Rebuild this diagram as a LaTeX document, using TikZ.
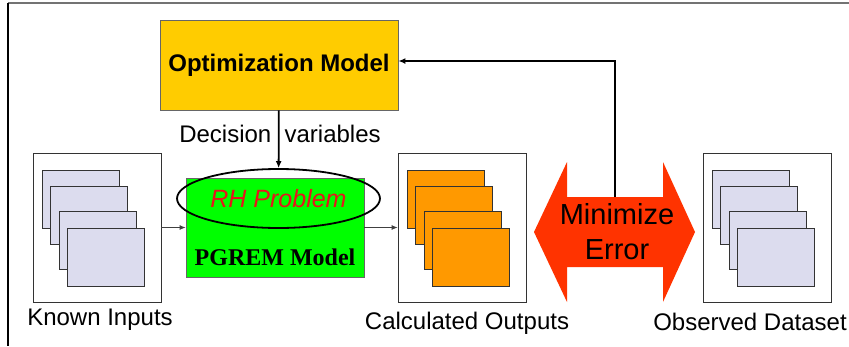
\documentclass[tikz,border=0pt]{standalone}
\usepackage{fontspec}
\setmainfont{Liberation Sans}
\newfontfamily\timesfont{Liberation Serif}
\usepackage{xcolor}
\usepackage{tikz}
\usetikzlibrary{shapes.geometric,arrows.meta,positioning,calc}
\definecolor{optyellow}{HTML}{FFCC00}
\definecolor{modelgreen}{HTML}{00FF00}
\definecolor{sheetblue}{HTML}{DCDCEE}
\definecolor{sheetorange}{HTML}{FF9900}
\definecolor{errred}{HTML}{FF3300}
\definecolor{rhred}{HTML}{E8141C}

% four stacked sheets inside a frame whose top-left corner is (#1,#2)
\newcommand{\sheetstack}[3]{%
  \foreach \dx/\dy in {9/17,17.5/33,26/58,34.5/75}
    \filldraw[fill=#3,draw=black!80,line width=0.8pt]
      (#1+\dx,#2+\dy) rectangle ++(77,58);
}

\tikzset{
  datafr/.style={draw=black!80,line width=0.8pt,minimum width=128pt,
    minimum height=149pt,inner sep=0pt},
  lbl/.style={font=\fontsize{24}{28}\selectfont,inner sep=0pt},
  flow/.style={draw=black!75,line width=0.8pt,-{Latex[length=6pt,width=5pt]}},
  heavy/.style={draw=black,line width=1.8pt,-{Latex[length=7pt,width=6pt]}}
}

\begin{document}
\begin{tikzpicture}[x=1pt,y=-1pt]
  \useasboundingbox (0,0) rectangle (849,346);
  \draw[black!55,line width=1.5pt] (8,3) -- (849,3);
  \draw[black,line width=1.5pt] (8,3) -- (8,346);

  % optimisation block
  \node[fill=optyellow,draw=black!60,line width=0.8pt,minimum width=238pt,
        minimum height=90pt,inner sep=0pt,
        font=\fontsize{24}{28}\selectfont\bfseries] (opt) at (279,65)
    {Optimization Model};
  \node[lbl] (dv) at (280,134) {Decision\ \ variables};

  % PGREM model with the RH problem on top
  \node[fill=modelgreen,draw=black!60,line width=0.8pt,minimum width=178pt,
        minimum height=99pt,inner sep=0pt] (pgrem) at (275,227.5) {};
  \node[font=\fontsize{24}{28}\selectfont\timesfont\bfseries,inner sep=0pt]
    (pgremlbl) at (275,257) {PGREM Model};
  \node[ellipse,draw=black,line width=1.8pt,minimum width=203pt,
        minimum height=59pt,inner sep=0pt,text=rhred,
        font=\fontsize{25}{28}\selectfont\itshape] (rh) at (278.5,198.5)
    {RH Problem};

  % data frames
  \node[datafr] (known) at (97,227.5) {};
  \sheetstack{33}{153}{sheetblue}
  \node[lbl] (knownlbl) at (100,320) {Known Inputs};

  \node[datafr] (calc) at (462,227.5) {};
  \sheetstack{398}{153}{sheetorange}
  \node[lbl] (calclbl) at (467,323) {Calculated Outputs};

  \node[datafr] (obs) at (767,227.5) {};
  \sheetstack{703}{153}{sheetblue}
  \node[lbl] (obslbl) at (750,322) {Observed Dataset};

  % error comparison
  \fill[errred] (534,232) -- (567,162) -- (567,197) -- (663,197) -- (663,162)
    -- (695,232) -- (663,302) -- (663,267) -- (567,267) -- (567,302) -- cycle;
  \node[align=center,inner sep=0pt,
        font=\fontsize{29}{35}\selectfont] (err) at (617,232)
    {Minimize\\Error};
  \coordinate (errtop) at (615,197);

  % connectors
  \draw[heavy] (opt) -- (rh);
  \draw[flow] (known) -- (pgrem);
  \draw[flow] (pgrem) -- (calc);
  \draw[heavy] (errtop) |- ([yshift=4pt]opt.east);
\end{tikzpicture}
\end{document}
